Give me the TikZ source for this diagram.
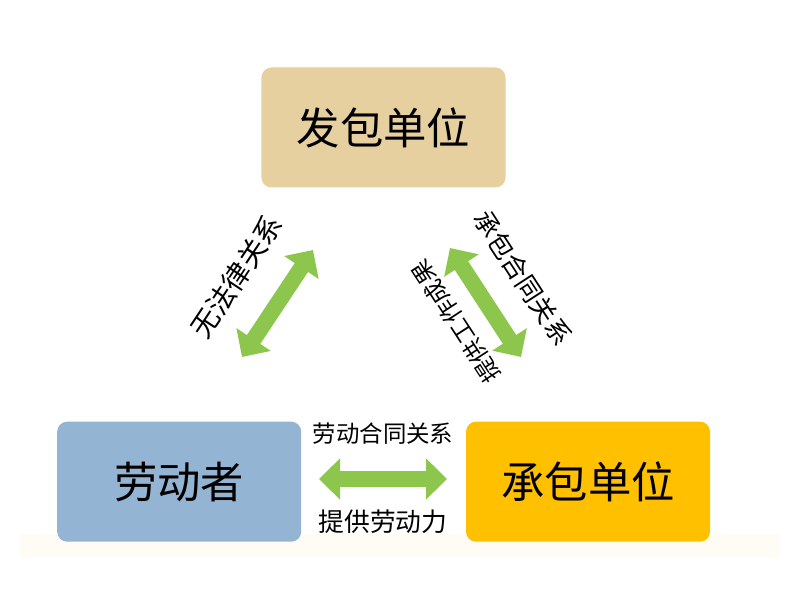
\documentclass[tikz,border=0pt]{standalone}
\usepackage{fontspec}
\newfontfamily\cjk{Noto Sans CJK SC}
\usepackage{tikz}
\usetikzlibrary{positioning, arrows.meta, calc}
\definecolor{boxtan}{RGB}{230,208,160}
\definecolor{boxblue}{RGB}{148,180,211}
\definecolor{boxgold}{RGB}{255,192,0}
\definecolor{arrowgreen}{RGB}{141,198,76}
\definecolor{bandtint}{RGB}{255,252,246}

\begin{document}
\begin{tikzpicture}[x=0.03cm, y=0.03cm,
        box/.style={rectangle, rounded corners=0.3cm, minimum width=7.32cm, minimum height=3.6cm, align=center, inner sep=0pt, font=\cjk\fontsize{37}{37}\selectfont},
        rel/.style={line width=0.48cm, draw=arrowgreen, {Triangle[length=0.63cm, width=1.2cm]}-{Triangle[length=0.63cm, width=1.2cm]}},
        lbl/.style={inner sep=0pt, midway, sloped, font=\cjk\fontsize{#1}{#1}\selectfont}]

        \useasboundingbox (0,0) rectangle (800,600);
        \fill [bandtint] (20,42) rectangle (780,66);

        % Drei Parteien
        \node (employer) [box, fill=boxtan] at (383.5,472.5) {发包单位};
        \node (worker) [box, fill=boxblue] at (179.2,118.3) {劳动者};
        \node (contractor) [box, fill=boxgold, right=4.93cm of worker] {承包单位};

        % Endpunkte der Pfeile
        \coordinate (wl) at (242,243);
        \coordinate (el) at (313,350);
        \coordinate (er) at (450,352);
        \coordinate (cr) at (521,243);
        \coordinate (wh) at (319,121);
        \coordinate (ch) at (447,121);

        % Beziehungen
        \draw [rel] (wl) -- (el) node[lbl=24, above=0.84cm] {无法律关系};
        \draw [rel] (er) -- (cr) node[lbl=22, above=0.75cm] {承包合同关系};
        \path (cr) -- (er) node[lbl=20, above=0.72cm, allow upside down] {提供工作成果};
        \draw [rel] (wh) -- (ch) node[lbl=20, above=0.8cm] {劳动合同关系}
            node[lbl=22, below=0.68cm] {提供劳动力};

    \end{tikzpicture}
\end{document}
